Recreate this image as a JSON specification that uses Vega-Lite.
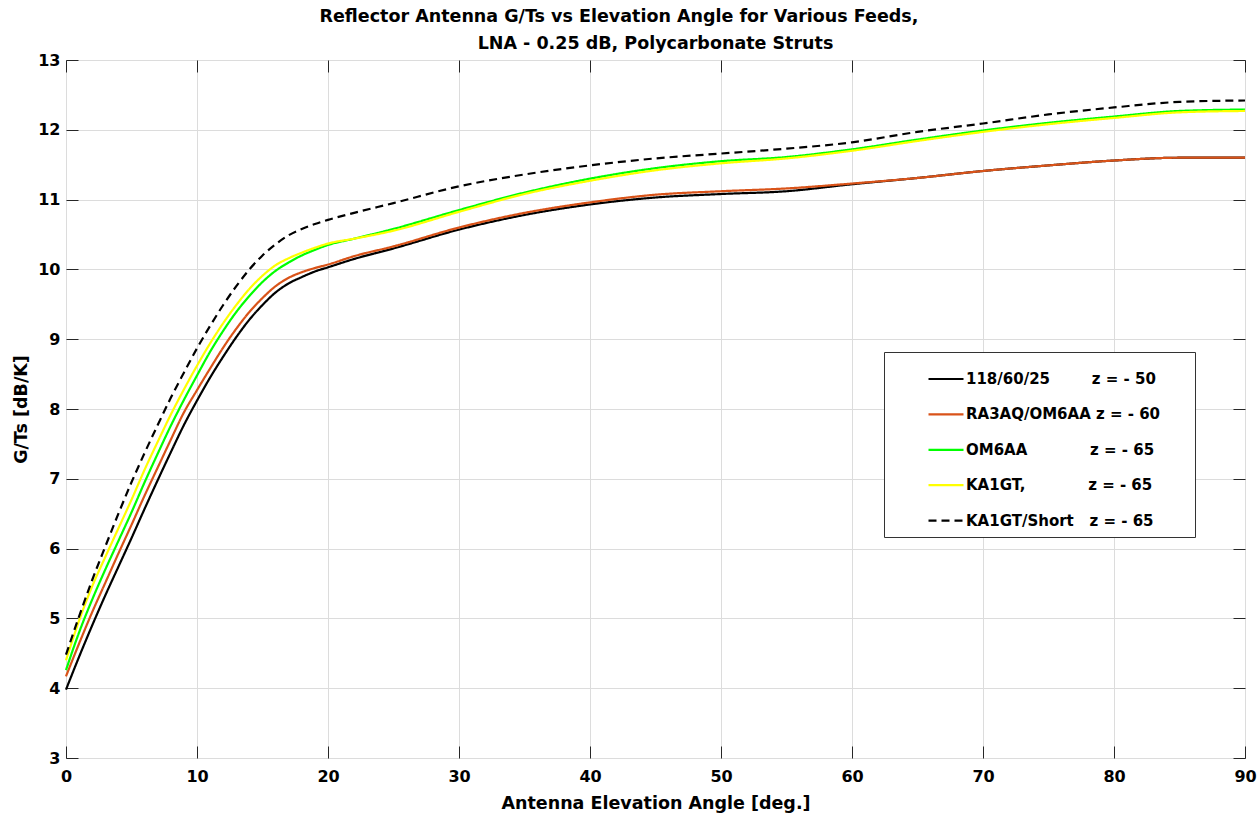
{
  "$schema": "https://vega.github.io/schema/vega-lite/v6.json",
  "autosize": {"type": "none"},
  "width": 1179,
  "height": 698,
  "padding": {"left": 66, "top": 60, "right": 13, "bottom": 58},
  "background": "white",
  "title": {
    "text": ["Reflector Antenna G/Ts vs Elevation Angle for Various Feeds,\u00a0\u00a0\u00a0\u00a0\u00a0\u00a0\u00a0\u00a0\u00a0\u00a0\u00a0\u00a0\u200b", "LNA - 0.25 dB, Polycarbonate Struts"],
    "font": "DejaVu Sans",
    "fontSize": 17.5,
    "fontWeight": "bold",
    "color": "#000000",
    "lineHeight": 27,
    "offset": 0,
    "anchor": "middle"
  },
  "config": {
    "view": {"stroke": "#262626", "strokeWidth": 1},
    "axis": {
      "labelFont": "DejaVu Sans",
      "labelFontWeight": "bold",
      "labelFontSize": 16,
      "labelColor": "#000000",
      "labelFlush": false,
      "titleFont": "DejaVu Sans",
      "titleFontWeight": "bold",
      "titleFontSize": 17.5,
      "titleColor": "#000000",
      "domainColor": "#262626",
      "tickColor": "#262626",
      "tickWidth": 1,
      "gridColor": "#dcdcdc",
      "gridWidth": 1
    },
    "legend": {
      "orient": "none",
      "legendX": 818,
      "legendY": 292,
      "symbolType": "stroke",
      "symbolSize": 1225,
      "symbolStrokeWidth": 2.2,
      "labelFont": "DejaVu Sans",
      "labelFontWeight": "bold",
      "labelFontSize": 15,
      "labelColor": "#000000",
      "labelOffset": 1,
      "labelLimit": 0,
      "padding": 8,
      "rowPadding": 8.4,
      "strokeColor": "#333333",
      "fillColor": "#ffffff",
      "symbolOffset": 35
    }
  },
  "data": {
    "values": [
      {"f":"118/60/25","x":0,"y":3.98},{"f":"118/60/25","x":1,"y":4.45},{"f":"118/60/25","x":2,"y":4.9},{"f":"118/60/25","x":3,"y":5.33},{"f":"118/60/25","x":4,"y":5.74},{"f":"118/60/25","x":5,"y":6.15},{"f":"118/60/25","x":6,"y":6.57},{"f":"118/60/25","x":7,"y":6.98},{"f":"118/60/25","x":8,"y":7.38},{"f":"118/60/25","x":9,"y":7.77},{"f":"118/60/25","x":10,"y":8.12},{"f":"118/60/25","x":11,"y":8.45},{"f":"118/60/25","x":12,"y":8.75},{"f":"118/60/25","x":13,"y":9.03},{"f":"118/60/25","x":14,"y":9.28},{"f":"118/60/25","x":15,"y":9.49},{"f":"118/60/25","x":16,"y":9.67},{"f":"118/60/25","x":17,"y":9.8},{"f":"118/60/25","x":18,"y":9.89},{"f":"118/60/25","x":19,"y":9.97},{"f":"118/60/25","x":20,"y":10.03},{"f":"118/60/25","x":22,"y":10.15},{"f":"118/60/25","x":25,"y":10.3},{"f":"118/60/25","x":30,"y":10.57},{"f":"118/60/25","x":35,"y":10.78},{"f":"118/60/25","x":40,"y":10.93},{"f":"118/60/25","x":45,"y":11.03},{"f":"118/60/25","x":50,"y":11.08},{"f":"118/60/25","x":55,"y":11.12},{"f":"118/60/25","x":60,"y":11.22},{"f":"118/60/25","x":65,"y":11.31},{"f":"118/60/25","x":70,"y":11.41},{"f":"118/60/25","x":75,"y":11.49},{"f":"118/60/25","x":80,"y":11.56},{"f":"118/60/25","x":85,"y":11.6},{"f":"118/60/25","x":90,"y":11.6},
      {"f":"RA3AQ/OM6AA","x":0,"y":4.17},{"f":"RA3AQ/OM6AA","x":1,"y":4.64},{"f":"RA3AQ/OM6AA","x":2,"y":5.09},{"f":"RA3AQ/OM6AA","x":3,"y":5.51},{"f":"RA3AQ/OM6AA","x":4,"y":5.93},{"f":"RA3AQ/OM6AA","x":5,"y":6.34},{"f":"RA3AQ/OM6AA","x":6,"y":6.76},{"f":"RA3AQ/OM6AA","x":7,"y":7.16},{"f":"RA3AQ/OM6AA","x":8,"y":7.56},{"f":"RA3AQ/OM6AA","x":9,"y":7.95},{"f":"RA3AQ/OM6AA","x":10,"y":8.27},{"f":"RA3AQ/OM6AA","x":11,"y":8.58},{"f":"RA3AQ/OM6AA","x":12,"y":8.88},{"f":"RA3AQ/OM6AA","x":13,"y":9.15},{"f":"RA3AQ/OM6AA","x":14,"y":9.39},{"f":"RA3AQ/OM6AA","x":15,"y":9.59},{"f":"RA3AQ/OM6AA","x":16,"y":9.76},{"f":"RA3AQ/OM6AA","x":17,"y":9.88},{"f":"RA3AQ/OM6AA","x":18,"y":9.96},{"f":"RA3AQ/OM6AA","x":19,"y":10.02},{"f":"RA3AQ/OM6AA","x":20,"y":10.07},{"f":"RA3AQ/OM6AA","x":22,"y":10.19},{"f":"RA3AQ/OM6AA","x":25,"y":10.33},{"f":"RA3AQ/OM6AA","x":30,"y":10.6},{"f":"RA3AQ/OM6AA","x":35,"y":10.81},{"f":"RA3AQ/OM6AA","x":40,"y":10.96},{"f":"RA3AQ/OM6AA","x":45,"y":11.07},{"f":"RA3AQ/OM6AA","x":50,"y":11.12},{"f":"RA3AQ/OM6AA","x":55,"y":11.16},{"f":"RA3AQ/OM6AA","x":60,"y":11.23},{"f":"RA3AQ/OM6AA","x":65,"y":11.31},{"f":"RA3AQ/OM6AA","x":70,"y":11.41},{"f":"RA3AQ/OM6AA","x":75,"y":11.49},{"f":"RA3AQ/OM6AA","x":80,"y":11.56},{"f":"RA3AQ/OM6AA","x":85,"y":11.6},{"f":"RA3AQ/OM6AA","x":90,"y":11.6},
      {"f":"OM6AA","x":0,"y":4.26},{"f":"OM6AA","x":1,"y":4.8},{"f":"OM6AA","x":2,"y":5.27},{"f":"OM6AA","x":3,"y":5.7},{"f":"OM6AA","x":4,"y":6.11},{"f":"OM6AA","x":5,"y":6.52},{"f":"OM6AA","x":6,"y":6.95},{"f":"OM6AA","x":7,"y":7.36},{"f":"OM6AA","x":8,"y":7.76},{"f":"OM6AA","x":9,"y":8.13},{"f":"OM6AA","x":10,"y":8.48},{"f":"OM6AA","x":11,"y":8.82},{"f":"OM6AA","x":12,"y":9.12},{"f":"OM6AA","x":13,"y":9.39},{"f":"OM6AA","x":14,"y":9.62},{"f":"OM6AA","x":15,"y":9.82},{"f":"OM6AA","x":16,"y":9.98},{"f":"OM6AA","x":17,"y":10.1},{"f":"OM6AA","x":18,"y":10.2},{"f":"OM6AA","x":19,"y":10.28},{"f":"OM6AA","x":20,"y":10.35},{"f":"OM6AA","x":22,"y":10.44},{"f":"OM6AA","x":25,"y":10.58},{"f":"OM6AA","x":30,"y":10.85},{"f":"OM6AA","x":35,"y":11.1},{"f":"OM6AA","x":40,"y":11.3},{"f":"OM6AA","x":45,"y":11.45},{"f":"OM6AA","x":50,"y":11.55},{"f":"OM6AA","x":55,"y":11.61},{"f":"OM6AA","x":60,"y":11.72},{"f":"OM6AA","x":65,"y":11.86},{"f":"OM6AA","x":70,"y":11.99},{"f":"OM6AA","x":75,"y":12.1},{"f":"OM6AA","x":80,"y":12.19},{"f":"OM6AA","x":85,"y":12.27},{"f":"OM6AA","x":90,"y":12.29},
      {"f":"KA1GT,","x":0,"y":4.4},{"f":"KA1GT,","x":1,"y":4.97},{"f":"KA1GT,","x":2,"y":5.46},{"f":"KA1GT,","x":3,"y":5.88},{"f":"KA1GT,","x":4,"y":6.29},{"f":"KA1GT,","x":5,"y":6.7},{"f":"KA1GT,","x":6,"y":7.13},{"f":"KA1GT,","x":7,"y":7.53},{"f":"KA1GT,","x":8,"y":7.92},{"f":"KA1GT,","x":9,"y":8.28},{"f":"KA1GT,","x":10,"y":8.62},{"f":"KA1GT,","x":11,"y":8.94},{"f":"KA1GT,","x":12,"y":9.23},{"f":"KA1GT,","x":13,"y":9.49},{"f":"KA1GT,","x":14,"y":9.72},{"f":"KA1GT,","x":15,"y":9.91},{"f":"KA1GT,","x":16,"y":10.06},{"f":"KA1GT,","x":17,"y":10.16},{"f":"KA1GT,","x":18,"y":10.24},{"f":"KA1GT,","x":19,"y":10.31},{"f":"KA1GT,","x":20,"y":10.37},{"f":"KA1GT,","x":22,"y":10.44},{"f":"KA1GT,","x":25,"y":10.555},{"f":"KA1GT,","x":30,"y":10.825},{"f":"KA1GT,","x":35,"y":11.08},{"f":"KA1GT,","x":40,"y":11.27},{"f":"KA1GT,","x":45,"y":11.42},{"f":"KA1GT,","x":50,"y":11.52},{"f":"KA1GT,","x":55,"y":11.59},{"f":"KA1GT,","x":60,"y":11.7},{"f":"KA1GT,","x":65,"y":11.84},{"f":"KA1GT,","x":70,"y":11.97},{"f":"KA1GT,","x":75,"y":12.08},{"f":"KA1GT,","x":80,"y":12.17},{"f":"KA1GT,","x":85,"y":12.25},{"f":"KA1GT,","x":90,"y":12.27},
      {"f":"KA1GT/Short","x":0,"y":4.48},{"f":"KA1GT/Short","x":1,"y":5.03},{"f":"KA1GT/Short","x":2,"y":5.55},{"f":"KA1GT/Short","x":3,"y":6.03},{"f":"KA1GT/Short","x":4,"y":6.5},{"f":"KA1GT/Short","x":5,"y":6.95},{"f":"KA1GT/Short","x":6,"y":7.37},{"f":"KA1GT/Short","x":7,"y":7.77},{"f":"KA1GT/Short","x":8,"y":8.16},{"f":"KA1GT/Short","x":9,"y":8.52},{"f":"KA1GT/Short","x":10,"y":8.87},{"f":"KA1GT/Short","x":11,"y":9.19},{"f":"KA1GT/Short","x":12,"y":9.49},{"f":"KA1GT/Short","x":13,"y":9.76},{"f":"KA1GT/Short","x":14,"y":10.0},{"f":"KA1GT/Short","x":15,"y":10.2},{"f":"KA1GT/Short","x":16,"y":10.36},{"f":"KA1GT/Short","x":17,"y":10.49},{"f":"KA1GT/Short","x":18,"y":10.58},{"f":"KA1GT/Short","x":19,"y":10.65},{"f":"KA1GT/Short","x":20,"y":10.71},{"f":"KA1GT/Short","x":22,"y":10.81},{"f":"KA1GT/Short","x":25,"y":10.95},{"f":"KA1GT/Short","x":30,"y":11.19},{"f":"KA1GT/Short","x":35,"y":11.36},{"f":"KA1GT/Short","x":40,"y":11.49},{"f":"KA1GT/Short","x":45,"y":11.59},{"f":"KA1GT/Short","x":50,"y":11.66},{"f":"KA1GT/Short","x":55,"y":11.73},{"f":"KA1GT/Short","x":60,"y":11.82},{"f":"KA1GT/Short","x":65,"y":11.97},{"f":"KA1GT/Short","x":70,"y":12.09},{"f":"KA1GT/Short","x":75,"y":12.22},{"f":"KA1GT/Short","x":80,"y":12.32},{"f":"KA1GT/Short","x":85,"y":12.4},{"f":"KA1GT/Short","x":90,"y":12.42}
    ]
  },
  "layer": [
    {
      "mark": {"type": "line", "interpolate": "monotone", "strokeWidth": 2.2},
      "encoding": {
        "x": {
          "field": "x", "type": "quantitative",
          "scale": {"domain": [0, 90], "nice": false, "zero": false},
          "axis": {"title": "Antenna Elevation Angle [deg.]", "values": [0,10,20,30,40,50,60,70,80,90], "offset": -12, "tickSize": 12, "labelPadding": 10, "titlePadding": 10, "grid": false, "domain": false, "labelFlush": false}
        },
        "y": {
          "field": "y", "type": "quantitative",
          "scale": {"domain": [3, 13], "nice": false, "zero": false},
          "axis": {"title": "G/Ts [dB/K]", "values": [3,4,5,6,7,8,9,10,11,12,13], "offset": -12, "tickSize": 12, "labelPadding": 6, "titlePadding": 7, "grid": false, "domain": false, "labelFlush": false}
        },
        "color": {
          "field": "f", "type": "nominal",
          "scale": {
            "domain": ["118/60/25", "RA3AQ/OM6AA", "OM6AA", "KA1GT,", "KA1GT/Short"],
            "range": ["#000000", "#D95319", "#00FF00", "#FFFF00", "#000000"]
          },
          "legend": {
            "title": null,
            "labelExpr": "{'118/60/25': '118/60/25\u00a0\u00a0\u00a0\u00a0\u00a0\u00a0\u00a0\u00a0z = - 50\u00a0\u00a0\u00a0\u00a0\u00a0\u200b', 'RA3AQ/OM6AA': 'RA3AQ/OM6AA\u00a0z = - 60\u00a0\u00a0\u00a0\u00a0\u00a0\u200b', 'OM6AA': 'OM6AA\u00a0\u00a0\u00a0\u00a0\u00a0\u00a0\u00a0\u00a0\u00a0\u00a0\u00a0\u00a0z = - 65\u00a0\u00a0\u00a0\u00a0\u00a0\u200b', 'KA1GT,': 'KA1GT,\u00a0\u00a0\u00a0\u00a0\u00a0\u00a0\u00a0\u00a0\u00a0\u00a0\u00a0\u00a0z = - 65\u00a0\u00a0\u00a0\u00a0\u00a0\u200b', 'KA1GT/Short': 'KA1GT/Short\u00a0\u00a0\u00a0z = - 65\u00a0\u00a0\u00a0\u00a0\u00a0\u200b'}[datum.label]"
          }
        },
        "strokeDash": {
          "field": "f", "type": "nominal",
          "scale": {
            "domain": ["118/60/25", "RA3AQ/OM6AA", "OM6AA", "KA1GT,", "KA1GT/Short"],
            "range": [[1, 0], [1, 0], [1, 0], [1, 0], [8, 5]]
          },
          "legend": {
            "title": null,
            "labelExpr": "{'118/60/25': '118/60/25\u00a0\u00a0\u00a0\u00a0\u00a0\u00a0\u00a0\u00a0z = - 50\u00a0\u00a0\u00a0\u00a0\u00a0\u200b', 'RA3AQ/OM6AA': 'RA3AQ/OM6AA\u00a0z = - 60\u00a0\u00a0\u00a0\u00a0\u00a0\u200b', 'OM6AA': 'OM6AA\u00a0\u00a0\u00a0\u00a0\u00a0\u00a0\u00a0\u00a0\u00a0\u00a0\u00a0\u00a0z = - 65\u00a0\u00a0\u00a0\u00a0\u00a0\u200b', 'KA1GT,': 'KA1GT,\u00a0\u00a0\u00a0\u00a0\u00a0\u00a0\u00a0\u00a0\u00a0\u00a0\u00a0\u00a0z = - 65\u00a0\u00a0\u00a0\u00a0\u00a0\u200b', 'KA1GT/Short': 'KA1GT/Short\u00a0\u00a0\u00a0z = - 65\u00a0\u00a0\u00a0\u00a0\u00a0\u200b'}[datum.label]"
          }
        },
        "order": {"field": "x", "type": "quantitative"}
      }
    },
    {
      "mark": {"type": "point", "opacity": 0},
      "encoding": {
        "x": {
          "field": "x", "type": "quantitative",
          "axis": {"orient": "top", "title": null, "labels": false, "grid": true, "domain": false, "offset": -12, "tickSize": 12, "values": [0,10,20,30,40,50,60,70,80,90]}
        },
        "y": {
          "field": "y", "type": "quantitative",
          "axis": {"orient": "right", "title": null, "labels": false, "grid": true, "domain": false, "offset": -12, "tickSize": 12, "values": [3,4,5,6,7,8,9,10,11,12,13]}
        }
      }
    }
  ],
  "resolve": {"axis": {"x": "independent", "y": "independent"}}
}
